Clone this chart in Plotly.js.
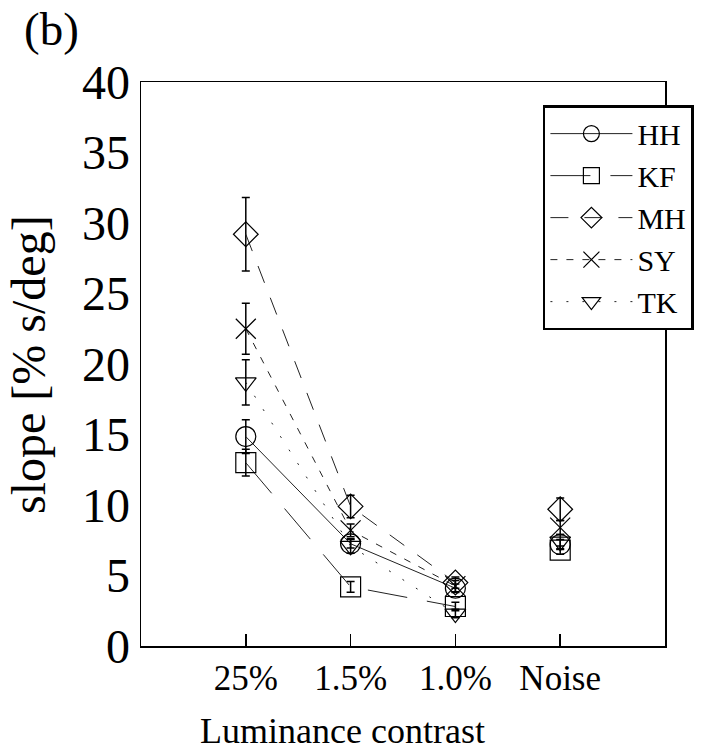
<!DOCTYPE html>
<html>
<head>
<meta charset="utf-8">
<script src="https://cdn.plot.ly/plotly-3.0.1.min.js"></script>
<style>html,body{margin:0;padding:0;background:#fff;}#chart{width:707px;height:753px;}</style>
</head>
<body>
<div id="chart"></div>
<script>
// Categories (x positions 0..3)
const categories = ["25%", "1.5%", "1.0%", "Noise"];
const subjects = ["HH", "KF", "MH", "SY", "TK"];

// slope values [% s/deg]
const HH = [14.85, 7.25, 4.1, 7.2];
const KF = [13.0, 4.2, 2.8, 6.8];
const MH = [29.2, 9.9, 4.5, 9.7];
const SY = [22.5, 8.2, 4.25, 8.4];
const TK = [18.7, 7.1, 2.3, 7.4];

// error (+/-)
const HH_err = [1.2, 0.3, 0.3, 0.35];
const KF_err = [0.95, 0.38, 0.3, 0.3];
const MH_err = [2.6, 0.8, 0.4, 0.8];
const SY_err = [1.8, 0.45, 0.4, 0.5];
const TK_err = [1.6, 0.5, 0.3, 0.5];

const values = {HH, KF, MH, SY, TK};
const errs = {HH: HH_err, KF: KF_err, MH: MH_err, SY: SY_err, TK: TK_err};

const style = {
  HH: {symbol: "circle-open", size: 20, dash: "solid"},
  KF: {symbol: "square-open", size: 20, dash: "40px,20px"},
  MH: {symbol: "diamond-open", size: 19, dash: "18px,16px"},
  SY: {symbol: "x-thin-open", size: 20, dash: "7px,9px"},
  TK: {symbol: "triangle-down-open", size: 18, dash: "2px,14px"}
};

// positions: the line connects the first three conditions; Noise stands alone
const xIdx = [0, 1, 2, null, 3];
const traces = subjects.map(s => {
  const v = values[s], e = errs[s];
  return {
    type: "scatter",
    mode: "lines+markers",
    name: s,
    x: xIdx,
    y: [v[0], v[1], v[2], null, v[3]],
    connectgaps: false,
    line: {color: "#222", width: 1, dash: style[s].dash},
    marker: {symbol: style[s].symbol, size: style[s].size, color: "#000",
             line: {color: "#000", width: 1.2}},
    error_y: {type: "data", array: [e[0], e[1], e[2], null, e[3]], visible: true,
              color: "#000", thickness: 1.5, width: 4},
    cliponaxis: false
  };
});

const serif = '"Liberation Serif", "Times New Roman", Times, serif';
const layout = {
  width: 707, height: 753,
  margin: {l: 141, r: 42, t: 82, b: 107},
  paper_bgcolor: "#fff", plot_bgcolor: "#fff",
  font: {family: serif, color: "#000"},
  showlegend: true,
  legend: {
    x: 0.767, y: 0.959, xanchor: "left", yanchor: "top",
    bgcolor: "#fff", bordercolor: "#000", borderwidth: 2.5,
    font: {family: serif, size: 30, color: "#000"},
    tracegroupgap: 0, itemsizing: "trace", itemwidth: 82
  },
  xaxis: {
    range: [-1, 4],
    tickmode: "array", tickvals: [0, 1, 2, 3], ticktext: categories,
    ticks: "inside", ticklen: 12, tickwidth: 1.5, tickcolor: "#000",
    showline: true, linecolor: "#000", linewidth: 1.5, mirror: true,
    showgrid: false, zeroline: false,
    tickfont: {family: serif, size: 35, color: "#000"}
  },
  yaxis: {
    range: [0, 40], tickvals: [0, 5, 10, 15, 20, 25, 30, 35, 40],
    ticks: "", showline: true, linecolor: "#000", linewidth: 1.5, mirror: true,
    showgrid: false, zeroline: false,
    tickfont: {family: serif, size: 48, color: "#000"}
  },
  annotations: [
    {text: "(b)", xref: "paper", yref: "paper", x: -0.17, y: 1.094,
     xanchor: "center", yanchor: "middle",
     showarrow: false, font: {family: serif, size: 47, color: "#000"}},
    {text: "Luminance contrast", xref: "paper", yref: "paper", x: 0.384, y: -0.1897,
     xanchor: "center", yanchor: "bottom",
     showarrow: false, font: {family: serif, size: 36, color: "#000"}},
    {text: "slope [% s/deg]", xref: "paper", yref: "paper", x: -0.2157, y: 0.5,
     xanchor: "center", yanchor: "middle",
     textangle: -90, showarrow: false, font: {family: serif, size: 48, color: "#000"}}
  ]
};

Plotly.newPlot("chart", traces, layout, {staticPlot: true, displayModeBar: false});
</script>
</body>
</html>
